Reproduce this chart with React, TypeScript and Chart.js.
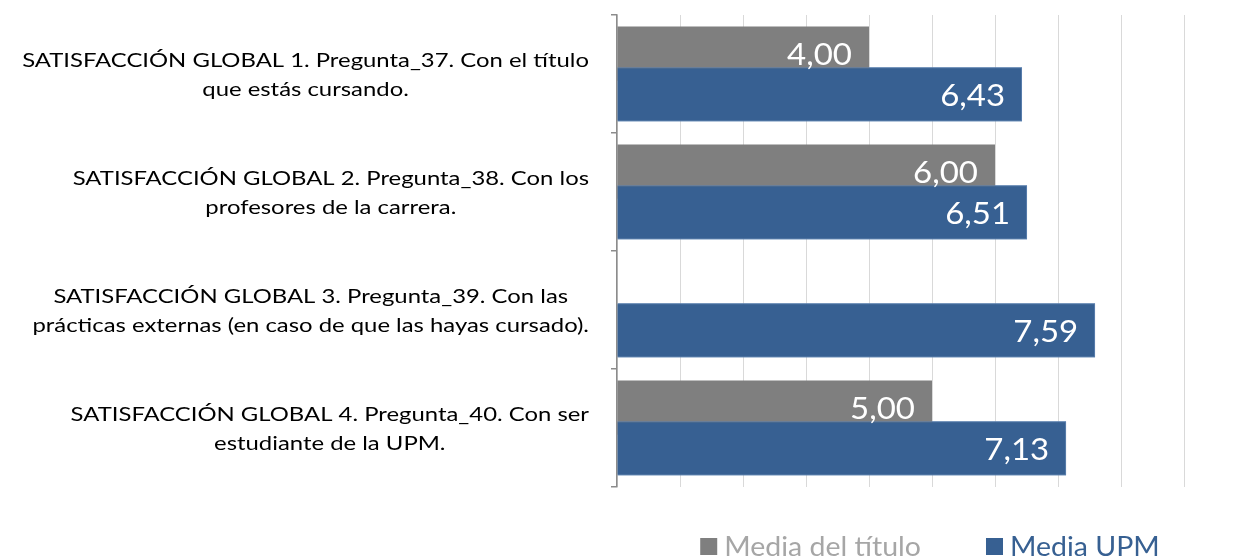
import React, { useEffect, useRef } from 'react';
import { Chart, registerables } from 'chart.js';

Chart.register(...registerables);

// ---------- data ----------
const categoryLabels: string[][] = [
  ['SATISFACCIÓN GLOBAL 1. Pregunta_37. Con el título', 'que estás cursando.'],
  ['SATISFACCIÓN GLOBAL 2. Pregunta_38. Con los', 'profesores de la carrera.'],
  ['SATISFACCIÓN GLOBAL 3. Pregunta_39. Con las', 'prácticas externas (en caso de que las hayas cursado).'],
  ['SATISFACCIÓN GLOBAL 4. Pregunta_40. Con ser', 'estudiante de la UPM.'],
];
const seriesNames: string[] = ['Media del título', 'Media UPM'];
const mediaTitulo: (number | null)[] = [4.0, 6.0, null, 5.0];
const mediaUPM: number[] = [6.43, 6.51, 7.59, 7.13];
const xMin = 0;
const xMax = 9;
const xStep = 1;

// ---------- styles ----------
const FONT = 'Lato, "Open Sans", sans-serif';
const GRAY = '#7f7f7f';
const BLUE = '#376092';
const LEGEND_TEXT = ['#a6a6a6', '#376092'];

const fmt = (v: number) => v.toFixed(2).replace('.', ',');

// draw text with a horizontal stretch (Excel renders this chart's text wider)
function stretchedText(ctx: CanvasRenderingContext2D, text: string, x: number, y: number, sx: number) {
  ctx.save();
  ctx.translate(x, y);
  ctx.scale(sx, 1);
  ctx.fillText(text, 0, 0);
  ctx.restore();
}

const overlapAndLabels = {
  id: 'overlapAndLabels',
  afterDatasetsDraw(chart: any) {
    const ctx = chart.ctx;
    const metas = chart.getSortedVisibleDatasetMetas();
    // later series lie over earlier ones (Excel overlap)
    metas.slice(1).forEach((m: any) => m.controller.draw());
    ctx.save();
    ctx.fillStyle = '#ffffff';
    ctx.font = `30px ${FONT}`;
    ctx.textAlign = 'right';
    ctx.textBaseline = 'middle';
    metas.forEach((m: any) => {
      const ds = chart.data.datasets[m.index];
      m.data.forEach((bar: any, i: number) => {
        const v = ds.data[i];
        if (v === null || v === undefined) return;
        const { x, y } = bar.getProps(['x', 'y'], true);
        stretchedText(ctx, fmt(v), x - 17, y + 2, 1.1);
      });
    });
    ctx.restore();
  },
};

const LABEL_STRETCH = 1.29;
const categoryText = {
  id: 'categoryText',
  afterDraw(chart: any) {
    const ctx = chart.ctx;
    const yScale = chart.scales.y;
    const rightEdge = yScale.right - 28;
    const lineH = 29.3;
    ctx.save();
    ctx.font = `18.5px ${FONT}`;
    ctx.fillStyle = '#000000';
    ctx.textAlign = 'center';
    ctx.textBaseline = 'alphabetic';
    const labels = chart.data.labels as string[][];
    labels.forEach((lines, i) => {
      const yc = yScale.getPixelForTick(i);
      const widest = Math.max(...lines.map((l) => ctx.measureText(l).width)) * LABEL_STRETCH;
      const xc = rightEdge - widest / 2;
      const y0 = yc - 7.5 - ((lines.length - 2) * lineH) / 2;
      lines.forEach((l, k) => stretchedText(ctx, l, xc, y0 + k * lineH, LABEL_STRETCH));
    });
    ctx.restore();
  },
};

const LEGEND_CENTER_X = 930;
const LEGEND_BASELINE = 556;
const LEGEND_STRETCH = 1.055;
const customLegend = {
  id: 'customLegend',
  afterDraw(chart: any) {
    const ctx = chart.ctx;
    ctx.save();
    ctx.font = `27px ${FONT}`;
    ctx.textBaseline = 'alphabetic';
    ctx.textAlign = 'left';
    const box = 17;
    const gap = 7;
    const spacing = 65;
    const items = chart.data.datasets.map((ds: any, i: number) => ({
      text: ds.label as string,
      fill: ds.backgroundColor as string,
      color: LEGEND_TEXT[i],
      w: ctx.measureText(ds.label).width * LEGEND_STRETCH,
    }));
    const total =
      items.reduce((s: number, it: any) => s + box + gap + it.w, 0) + spacing * (items.length - 1);
    let x = LEGEND_CENTER_X - total / 2;
    items.forEach((it: any) => {
      ctx.fillStyle = it.fill;
      ctx.fillRect(x, LEGEND_BASELINE - 18, box, box);
      ctx.fillStyle = it.color;
      stretchedText(ctx, it.text, x + box + gap, LEGEND_BASELINE, LEGEND_STRETCH);
      x += box + gap + it.w + spacing;
    });
    ctx.restore();
  },
};

export default function App() {
  const canvasRef = useRef<HTMLCanvasElement | null>(null);

  useEffect(() => {
    if (!canvasRef.current) return;
    const chart = new Chart(canvasRef.current, {
      type: 'bar',
      data: {
        labels: categoryLabels as any,
        datasets: [
          {
            label: seriesNames[0],
            data: mediaTitulo as any,
            backgroundColor: GRAY,
            borderWidth: 0,
            categoryPercentage: 0.69,
            barPercentage: 1.33,
          },
          {
            label: seriesNames[1],
            data: mediaUPM,
            backgroundColor: BLUE,
            borderColor: '#5a7fae',
            borderWidth: 1,
            categoryPercentage: 0.69,
            barPercentage: 1.33,
          },
        ],
      },
      options: {
        indexAxis: 'y',
        responsive: false,
        animation: false,
        layout: { padding: { top: 15, right: 53, left: 0, bottom: 0 } },
        plugins: {
          legend: { display: false },
          tooltip: { enabled: false },
          title: { display: false },
        },
        scales: {
          x: {
            type: 'linear',
            min: xMin,
            max: xMax,
            ticks: { display: false, stepSize: xStep },
            grid: { color: '#d9d9d9', lineWidth: 1, drawTicks: false },
            border: { display: false },
            afterFit: (scale: any) => {
              scale.height = 71;
            },
          },
          y: {
            type: 'category',
            offset: true,
            ticks: { display: false },
            grid: {
              offset: true,
              drawOnChartArea: false,
              drawTicks: true,
              tickLength: 6,
              color: '#8c8c8c',
              lineWidth: 1.5,
            },
            border: { display: true, color: '#8c8c8c', width: 1.5 },
            afterFit: (scale: any) => {
              scale.width = 617;
            },
          },
        },
      },
      plugins: [overlapAndLabels, categoryText, customLegend],
    });
    return () => chart.destroy();
  }, []);

  return (
    <div style={{ position: 'fixed', left: 0, top: 0, width: 1237, height: 558, background: '#ffffff' }}>
      <canvas ref={canvasRef} width={1237} height={558} />
    </div>
  );
}
